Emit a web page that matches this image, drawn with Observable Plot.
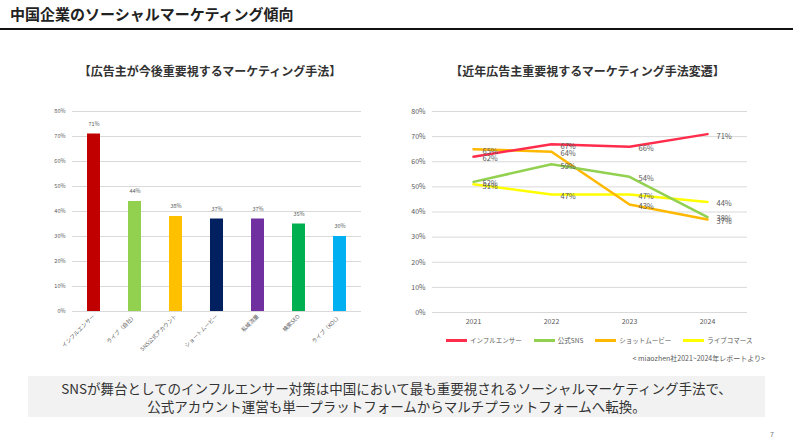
<!DOCTYPE html>
<html><head><meta charset="utf-8">
<script src="https://cdn.jsdelivr.net/npm/d3@7"></script>
<script src="https://cdn.jsdelivr.net/npm/@observablehq/plot@0.6"></script>
<style>
body{margin:0;width:793px;height:442px;position:relative;background:#fff;font-family:"Noto Sans CJK JP","Noto Sans",sans-serif;overflow:hidden}
.abs{position:absolute}
#legend{display:flex;gap:12px;align-items:center;font-size:6.5px;color:#595959}
#legend .item{display:flex;align-items:center;gap:3px}
#legend .sw{width:21px;height:3px}
</style></head><body>
<div class="abs" style="left:10px;top:4px;font-size:15px;font-weight:bold;color:#222;line-height:20px">中国企業のソーシャルマーケティング傾向</div>
<div class="abs" style="left:0;top:28px;width:793px;height:1.5px;background:#111"></div>
<div class="abs" style="left:40px;width:340px;top:63px;text-align:center;font-size:12px;font-weight:bold;color:#333;line-height:16px">【広告主が今後重要視するマーケティング手法】</div>
<div class="abs" style="left:400px;width:375px;top:63px;text-align:center;font-size:12px;font-weight:bold;color:#333;line-height:16px">【近年広告主重要視するマーケティング手法変遷】</div>
<div class="abs" id="left" style="left:20px;top:95px"></div>
<div class="abs" id="right" style="left:400px;top:95px"></div>
<div class="abs" id="legend" style="left:446px;top:335px;height:10px"></div>
<div class="abs" style="right:28px;top:353px;font-size:7px;color:#595959;line-height:10px">&lt; miaozhen社2021~2024年レポートより&gt;</div>
<div class="abs" style="left:28px;top:376px;width:737px;height:41px;background:#f2f2f2;display:flex;align-items:center;justify-content:center;text-align:center;font-size:13.5px;color:#333;line-height:18px">SNSが舞台としてのインフルエンサー対策は中国において最も重要視されるソーシャルマーケティング手法で、<br>公式アカウント運営も単一プラットフォームからマルチプラットフォームへ転換。</div>
<div class="abs" style="left:770px;top:429px;font-size:7px;color:#777">7</div>
<script>
// Left chart data
const methods = ["インフルエンサー","ライブ（自社）","SNS公式アカウント","ショートムービー","私域流量","検索SEO","ライブ（KOL）"];
const methodValues = [71,44,38,37,37,35,30];
const methodColors = ["#C00000","#92D050","#FFC000","#002060","#7030A0","#00B050","#00B0F0"];
const pctTicks = [0,10,20,30,40,50,60,70,80];

// Right chart data
const years = ["2021","2022","2023","2024"];
const seriesNames = ["インフルエンサー","公式SNS","ショットムービー","ライブコマース"];
const seriesColors = ["#FF2D4B","#92D050","#FFB800","#FFFF00"];
const influencer = [62,67,66,71];
const officialSNS = [52,59,54,38];
const shortMovie = [65,64,43,37];
const liveCommerce = [51,47,47,44];

const fmt = d => d + "%";
const font = '"Noto Sans CJK JP","Noto Sans",sans-serif';

const barData = methods.map((m,i)=>({m, v:methodValues[i], c:methodColors[i]}));
const left = Plot.plot({
  width:360, height:280,
  marginLeft:52, marginRight:19, marginTop:16, marginBottom:64,
  style:{fontFamily:font, color:"#595959", background:"transparent"},
  x:{domain:methods, paddingInner:0.69, paddingOuter:0.345, label:null},
  y:{domain:[0,80], label:null},
  color:{type:"identity"},
  marks:[
    Plot.gridY(pctTicks,{stroke:"#d9d9d9", strokeOpacity:1, strokeWidth:1}),
    Plot.axisY({ticks:pctTicks, tickSize:0, tickPadding:7, fontSize:5.5, tickFormat:fmt, label:null}),
    Plot.axisX({tickSize:0, tickPadding:4, tickRotate:-45, fontSize:5.5, label:null}),
    Plot.barY(barData,{x:"m", y:"v", fill:"c"}),
    Plot.text(barData,{x:"m", y:"v", text:d=>fmt(d.v), dy:-10, fontSize:5.5, fill:"#595959"})
  ]
});
document.getElementById("left").appendChild(left);

const seriesVals = [influencer, officialSNS, shortMovie, liveCommerce];
const lineData = [];
seriesNames.forEach((s,si)=>years.forEach((y,yi)=>lineData.push({s, year:y, v:seriesVals[si][yi], c:seriesColors[si]})));
const drawOrder = [3,2,1,0];
const right = Plot.plot({
  width:393, height:240,
  marginLeft:32, marginRight:46, marginTop:16, marginBottom:23,
  style:{fontFamily:font, color:"#595959", background:"transparent"},
  x:{domain:years, type:"point", padding:0.5, label:null},
  y:{domain:[0,80], label:null},
  color:{type:"identity"},
  marks:[
    Plot.gridY(pctTicks,{stroke:"#d9d9d9", strokeOpacity:1, strokeWidth:1}),
    Plot.axisY({ticks:pctTicks, tickSize:0, tickPadding:7, fontSize:7, tickFormat:fmt, label:null}),
    Plot.axisX({tickSize:0, tickPadding:7, fontSize:7, label:null}),
    ...drawOrder.map(i=>Plot.line(lineData.filter(d=>d.s===seriesNames[i]),{x:"year", y:"v", stroke:seriesColors[i], strokeWidth:2.5})),
    Plot.text(lineData,{x:"year", y:"v", text:d=>fmt(d.v), dx:9, dy:2, textAnchor:"start", fontSize:7.5, fill:"#595959"})
  ]
});
document.getElementById("right").appendChild(right);

const legend = document.getElementById("legend");
seriesNames.forEach((s,i)=>{
  const it = document.createElement("div"); it.className="item";
  const sw = document.createElement("div"); sw.className="sw"; sw.style.background=seriesColors[i];
  const tx = document.createElement("span"); tx.textContent=s;
  it.appendChild(sw); it.appendChild(tx); legend.appendChild(it);
});
</script>
</body></html>
